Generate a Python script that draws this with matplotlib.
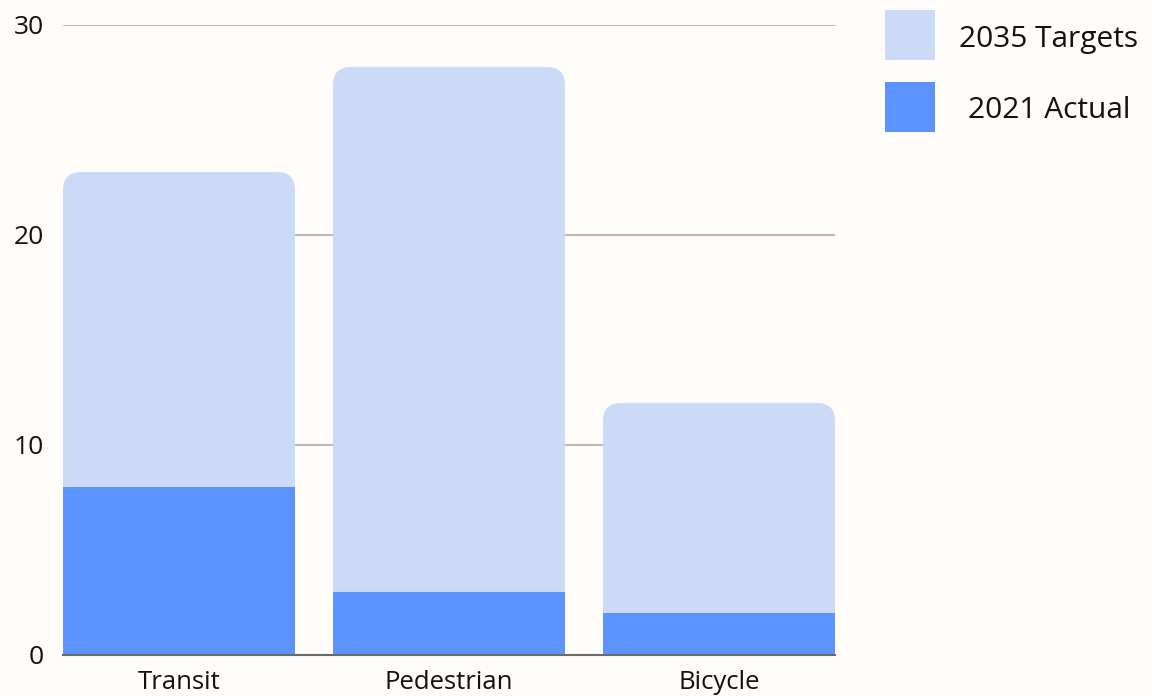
#!/usr/bin/env python3
from matplotlib import pyplot as plt
from matplotlib.patches import FancyBboxPatch, Rectangle
import numpy as np

plt.rcParams['font.family'] = ['Open Sans', 'DejaVu Sans']

# 数据
modes = ['Transit', 'Pedestrian', 'Bicycle']
targets_2035 = [23, 28, 12]
actual_2021 = [8, 3, 2]
y_ticks = [0, 10, 20, 30]
series_names = ['2035 Targets', '2021 Actual']

bg = '#fffcf9'
light = '#cbdaf7'
dark = '#5b94fe'

W, H = 1152, 696
fig = plt.figure(figsize=(W / 100, H / 100), dpi=100, facecolor=bg)
ax = fig.add_axes([63 / W, 1 - 655 / H, 772 / W, 630 / H])
ax.set_facecolor(bg)

x = np.arange(len(modes))
width = 0.859

ax.set_xlim(-width / 2, len(modes) - 1 + width / 2)
ax.set_ylim(0, 30)

# 圆角尺寸: x 方向数据单位, 纵横比换算到 y
x_per_px = (len(modes) - 1 + width) / 772
y_per_px = 30 / 630
radius = 18 * x_per_px
aspect = y_per_px / x_per_px

for xi, t in zip(x, targets_2035):
    box = FancyBboxPatch((xi - width / 2, 0), width, t,
                         boxstyle=f'round,pad=0,rounding_size={radius}',
                         mutation_aspect=aspect,
                         facecolor=light, edgecolor='none', zorder=2)
    ax.add_patch(box)

ax.bar(x, actual_2021, width=width, color=dark, zorder=3)

ax.set_yticks(y_ticks)
ax.set_xticks(x)
ax.set_xticklabels(modes)
ax.yaxis.grid(True, color='#bcb8b4', linewidth=1.5, zorder=1)
ax.set_axisbelow(True)
ax.tick_params(axis='both', length=0, colors='#111111')
ax.tick_params(axis='y', pad=14, labelsize=19)
ax.tick_params(axis='x', pad=11, labelsize=18.5)

for side in ['top', 'right', 'left']:
    ax.spines[side].set_visible(False)
ax.spines['bottom'].set_color('#6b6b6b')
ax.spines['bottom'].set_linewidth(1.5)
ax.spines['bottom'].set_zorder(4)

# 图例 (手动画方块和文字)
for i, (name, col) in enumerate(zip(series_names, [light, dark])):
    top = 10 + i * 72
    fig.add_artist(Rectangle((885 / W, 1 - (top + 50) / H), 50 / W, 50 / H,
                             transform=fig.transFigure, facecolor=col, edgecolor='none'))
    fig.text(1049 / W, 1 - (top + 29) / H, name, ha='center', va='center',
             fontsize=21.5, color='#111111')

fig.savefig('out.png', dpi=100, facecolor=bg)
